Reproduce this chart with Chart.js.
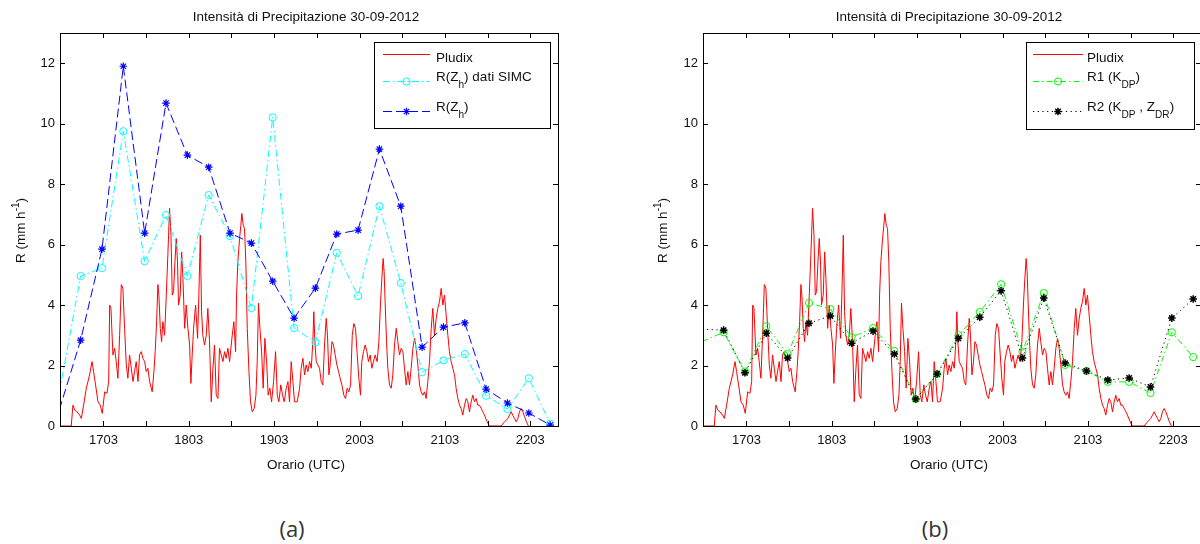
<!DOCTYPE html>
<html>
<head>
<meta charset="utf-8">
<title>Intensità di Precipitazione 30-09-2012</title>
<script src="https://cdn.jsdelivr.net/npm/chart.js@4.4.0/dist/chart.umd.min.js"></script>
<style>
  html, body { margin: 0; padding: 0; background: #fff; }
  body { width: 1200px; height: 544px; position: relative; overflow: hidden; }
  .panel { position: absolute; top: 0; width: 600px; height: 490px; }
  .caption { position: absolute; top: 513px; line-height: 26px; font: 22px "Open Sans", sans-serif;
             color: #333; transform: translateX(-50%); }
</style>
</head>
<body>
<div class="panel" style="left:0"><canvas id="chartA" width="600" height="490"></canvas></div>
<div class="panel" style="left:643px"><canvas id="chartB" width="600" height="490"></canvas></div>
<div class="caption" style="left:292px">(a)</div>
<div class="caption" style="left:935px">(b)</div>

<script>
// time axis is in minutes after midnight (UTC)
const xMin = 992.5;
const xMax = 1342.5;
const xTickMinutes = [1023, 1053, 1083, 1113, 1143, 1173, 1203, 1233, 1263, 1293, 1323];
const xTickLabels = ['1703', '', '1803', '', '1903', '', '2003', '', '2103', '', '2203'];
const yTickValues = [0, 2, 4, 6, 8, 10, 12];

// radar estimates, one every 15 minutes
const radarTime = [992, 1007, 1022, 1037, 1052, 1067, 1082, 1097, 1112, 1127, 1142, 1157,
                   1172, 1187, 1202, 1217, 1232, 1247, 1262, 1277, 1292, 1307, 1322, 1337];
const rZhSimc = [1.1, 4.96, 5.22, 9.75, 5.45, 6.98, 4.96, 7.64, 6.28, 3.9, 10.21, 3.24,
                 2.77, 5.73, 4.3, 7.27, 4.73, 1.78, 2.17, 2.38, 1.0, 0.56, 1.58, 0.08];
const rZh = [0.53, 2.84, 5.85, 11.9, 6.38, 10.68, 8.96, 8.56, 6.38, 6.05, 4.79, 3.57,
             4.56, 6.35, 6.48, 9.16, 7.27, 2.61, 3.27, 3.41, 1.22, 0.76, 0.43, 0.03];
const r1Kdp = [2.8, 3.1, 1.8, 3.3, 2.38, 4.07, 3.87, 2.94, 3.24, 2.48, 0.89, 1.72,
               3.0, 3.77, 4.69, 2.45, 4.4, 2.02, 1.82, 1.46, 1.46, 1.09, 3.1, 2.28];
const r2KdpZdr = [3.2, 3.17, 1.76, 3.07, 2.25, 3.4, 3.64, 2.74, 3.14, 2.38, 0.89, 1.72,
                  2.9, 3.6, 4.47, 2.25, 4.23, 2.08, 1.82, 1.52, 1.59, 1.29, 3.57, 4.2];

// Pludix rain gauge
const pludixTime = [992, 1000.4, 1001.6, 1002.8, 1004.4, 1006.3, 1007.5, 1009.1, 1011, 1013.3,
  1015, 1016.1, 1017.5, 1019.2, 1020.8, 1022.2, 1023.9, 1025.5, 1026.7, 1027.4,
  1028.3, 1029.7, 1030.9, 1032, 1033.2, 1034.4, 1035.6, 1036.7, 1037.9, 1039.1,
  1040.2, 1041.4, 1042.6, 1043.8, 1044.9, 1046.1, 1047.3, 1048.4, 1049.6, 1050.8,
  1052, 1053.1, 1054.3, 1055.5, 1057.3, 1058.5, 1059.4, 1060.4, 1061.3, 1062,
  1063, 1063.9, 1064.8, 1066, 1067.2, 1068.3, 1069.5, 1070.5, 1071.4, 1072.3,
  1073.3, 1074.2, 1075.1, 1075.8, 1077, 1078, 1078.9, 1080.1, 1081.2, 1082.4,
  1083.6, 1084.5, 1085.4, 1086.4, 1087.8, 1089.2, 1090.1, 1091.1, 1092, 1092.9,
  1094.1, 1095.3, 1096.4, 1097.6, 1098.8, 1100, 1101.1, 1102.3, 1103.5, 1104.6,
  1105.8, 1107, 1108.2, 1109.3, 1110.5, 1111.7, 1113.3, 1114.7, 1115.9, 1116.6,
  1117.5, 1118.7, 1119.6, 1120.3, 1121.3, 1122.2, 1123.1, 1124.1, 1125.3, 1126.4,
  1127.6, 1129, 1130.2, 1131.1, 1132, 1133, 1134.2, 1135.3, 1136.5, 1137.7,
  1138.8, 1140, 1141.2, 1142.6, 1144, 1145.2, 1146.3, 1147.7, 1148.9, 1150.1,
  1151.5, 1152.7, 1153.8, 1155, 1156.2, 1157.3, 1159.2, 1160.9, 1162, 1163.2,
  1164.4, 1165.5, 1166.7, 1167.9, 1169.1, 1170.2, 1170.9, 1171.6, 1172.6, 1173.7,
  1174.9, 1176.1, 1177.2, 1178.4, 1179.6, 1180.5, 1181.5, 1182.6, 1183.6, 1184.7,
  1185.9, 1187.1, 1188.3, 1189.4, 1190.6, 1192, 1193.2, 1194.3, 1195.5, 1196.7,
  1197.9, 1199, 1200.2, 1201.4, 1202.5, 1203.7, 1204.6, 1205.8, 1207, 1208.2,
  1209.3, 1210.5, 1211.7, 1212.8, 1214, 1215.4, 1216.6, 1217.8, 1218.7, 1219.6,
  1220.3, 1221, 1222, 1222.9, 1224.1, 1225.3, 1226.4, 1227.6, 1228.8, 1229.9,
  1231.1, 1232.3, 1233.5, 1234.6, 1235.8, 1237, 1238.1, 1239.3, 1240.5, 1241.7,
  1242.8, 1244, 1245.2, 1246.3, 1247.5, 1248.7, 1249.8, 1251, 1252.2, 1253.4,
  1254.5, 1255.7, 1256.9, 1258, 1259.2, 1260.4, 1261.6, 1262.7, 1263.9, 1265.1,
  1266.2, 1267.4, 1268.6, 1269.8, 1270.9, 1272.1, 1273.3, 1274.4, 1275.6, 1276.8,
  1278, 1279.1, 1280.3, 1281.5, 1282.6, 1283.8, 1285, 1286.1, 1287.3, 1288.5,
  1289.7, 1290.8, 1292.7, 1294.3, 1302.5, 1304.9, 1307.2, 1308.4, 1309.6, 1310.7,
  1311.9, 1313.1, 1314.3, 1315.4, 1316.6, 1317.8, 1319, 1320.3, 1321.7];
const pludixRate = [0, 0, 0.69, 0.53, 0.47, 0.36, 0.25, 0.69, 1.25, 1.69,
  2.13, 1.8, 1.36, 0.8, 0.69, 0.42, 1.13, 1.08, 1.47, 4.0,
  3.89, 2.35, 2.57, 2.13, 1.58, 3.0, 4.68, 4.55, 3.23, 2.02,
  1.58, 2.35, 1.91, 1.47, 1.8, 2.13, 1.47, 2.35, 2.46, 2.24,
  2.13, 1.8, 1.91, 1.47, 1.13, 1.8, 2.46, 3.45, 4.68, 4.33,
  3.23, 2.79, 3.45, 3.0, 4.33, 5.65, 7.2, 6.31, 4.33, 4.44,
  5.43, 6.2, 5.43, 4.0, 4.33, 5.76, 4.88, 3.23, 4.0, 3.23,
  2.68, 1.41, 2.35, 3.23, 4.0, 2.9, 4.33, 6.31, 3.78, 3.0,
  2.68, 3.0, 3.89, 2.79, 0.8, 1.91, 2.68, 1.02, 0.91, 2.57,
  2.35, 2.13, 2.46, 2.24, 2.57, 2.13, 2.9, 3.45, 2.46, 4.33,
  5.43, 6.2, 6.64, 7.03, 6.64, 6.53, 5.43, 3.23, 1.8, 0.8,
  0.47, 0.58, 1.02, 2.13, 4.06, 3.23, 2.46, 1.25, 2.9, 2.13,
  1.02, 1.25, 0.8, 1.47, 2.46, 1.02, 0.8, 1.36, 1.02, 0.8,
  1.25, 1.47, 0.8, 2.13, 1.47, 0.8, 0.8, 1.25, 1.91, 2.24,
  1.69, 2.02, 1.8, 2.13, 1.91, 2.79, 3.78, 2.79, 2.13, 2.02,
  1.91, 1.47, 1.36, 2.68, 3.56, 3.0, 1.69, 2.13, 2.79, 2.68,
  2.35, 2.02, 1.8, 1.58, 1.36, 1.02, 0.91, 1.25, 1.13, 1.36,
  3.0, 3.39, 3.23, 2.35, 1.58, 1.02, 2.13, 2.46, 2.68, 2.46,
  2.13, 2.35, 1.91, 2.13, 2.35, 2.13, 2.79, 4.11, 4.88, 5.54,
  5.1, 4.11, 2.79, 1.91, 1.36, 1.25, 1.69, 2.68, 3.23, 2.79,
  2.35, 2.57, 2.46, 1.91, 1.36, 1.8, 1.36, 1.91, 2.57, 2.9,
  2.57, 2.02, 1.36, 1.13, 1.02, 1.13, 0.91, 1.47, 2.13, 3.23,
  3.89, 3.0, 3.56, 3.89, 4.11, 4.55, 4.0, 4.33, 3.67, 3.0,
  2.46, 2.13, 1.91, 1.69, 1.25, 0.91, 0.69, 0.58, 0.36, 0.69,
  0.91, 0.8, 0.47, 0.8, 1.02, 0.8, 0.91, 0.69, 0.69, 0.58,
  0.47, 0.36, 0.14, 0, 0, 0.14, 0.25, 0.36, 0.47, 0.36,
  0.25, 0.14, 0.25, 0.47, 0.58, 0.47, 0.31, 0.14, 0];

const FONT = '"Liberation Sans", Arial, sans-serif';
const titleText = 'Intensità di Precipitazione 30-09-2012';
const xTitleText = 'Orario (UTC)';
const yTitleText = 'R (mm h^{-1})';

const toPoints = (xs, ys) => xs.map((x, i) => ({ x: x, y: ys[i] }));

// text with _{sub} and ^{sup} pieces
function drawRich(ctx, text, x, y, size, align) {
  const parts = [];
  const re = /([_^])\{([^}]*)\}/g;
  let last = 0, m;
  while ((m = re.exec(text))) {
    if (m.index > last) parts.push({ t: text.slice(last, m.index), mode: '' });
    parts.push({ t: m[2], mode: m[1] });
    last = re.lastIndex;
  }
  if (last < text.length) parts.push({ t: text.slice(last), mode: '' });
  const small = size * 0.75;
  let w = 0;
  parts.forEach(p => {
    ctx.font = (p.mode ? small : size) + 'px ' + FONT;
    p.w = ctx.measureText(p.t).width;
    w += p.w;
  });
  let cx = align === 'center' ? x - w / 2 : x;
  ctx.textAlign = 'left';
  ctx.textBaseline = 'middle';
  parts.forEach(p => {
    ctx.font = (p.mode ? small : size) + 'px ' + FONT;
    const dy = p.mode === '_' ? size * 0.6 : (p.mode === '^' ? -size * 0.35 : 0);
    ctx.fillText(p.t, cx, y + dy);
    cx += p.w;
  });
}

function drawMarker(ctx, style, x, y, r, color, width) {
  ctx.save();
  ctx.strokeStyle = color;
  ctx.lineWidth = width;
  ctx.setLineDash([]);
  ctx.beginPath();
  if (style === 'circle') {
    ctx.arc(x, y, r, 0, Math.PI * 2);
  } else if (style === 'star') {
    const d = r * Math.SQRT1_2;
    ctx.moveTo(x - r, y); ctx.lineTo(x + r, y);
    ctx.moveTo(x, y - r); ctx.lineTo(x, y + r);
    ctx.moveTo(x - d, y - d); ctx.lineTo(x + d, y + d);
    ctx.moveTo(x - d, y + d); ctx.lineTo(x + d, y - d);
  }
  ctx.stroke();
  ctx.restore();
}

// axes box with inward ticks, titles and the boxed legend
const framePlugin = {
  id: 'frame',
  afterDatasetsDraw(chart, args, opts) {
    const { ctx, chartArea: a, scales: { x, y } } = chart;
    ctx.save();
    ctx.strokeStyle = '#000';
    ctx.lineWidth = 1;
    ctx.setLineDash([]);
    ctx.beginPath();
    xTickMinutes.forEach(v => {
      const px = Math.round(x.getPixelForValue(v)) + 0.5;
      ctx.moveTo(px, a.bottom); ctx.lineTo(px, a.bottom - 5);
      ctx.moveTo(px, a.top); ctx.lineTo(px, a.top + 5);
    });
    yTickValues.forEach(v => {
      const py = Math.round(y.getPixelForValue(v)) + 0.5;
      ctx.moveTo(a.left, py); ctx.lineTo(a.left + 5, py);
      ctx.moveTo(a.right, py); ctx.lineTo(a.right - 5, py);
    });
    ctx.stroke();
    ctx.strokeRect(Math.round(a.left) + 0.5, Math.round(a.top) + 0.5,
                   Math.round(a.right - a.left), Math.round(a.bottom - a.top));

    // titles
    ctx.fillStyle = '#111';
    const cx = (a.left + a.right) / 2 - 3;
    drawRich(ctx, titleText, cx, 17, 13.5, 'center');
    drawRich(ctx, xTitleText, cx, 465, 13.5, 'center');
    ctx.save();
    ctx.translate(opts.yTitleX, (a.top + a.bottom) / 2 + 1);
    ctx.rotate(-Math.PI / 2);
    drawRich(ctx, yTitleText, 0, 0, 13.5, 'center');
    ctx.restore();

    // legend
    const L = opts.legend;
    ctx.fillStyle = '#fff';
    ctx.fillRect(L.left, L.top, L.width, L.height);
    ctx.strokeStyle = '#000';
    ctx.strokeRect(L.left + 0.5, L.top + 0.5, L.width, L.height);
    chart.data.datasets.forEach((ds, i) => {
      const ly = L.top + L.lineRows[i];
      const x0 = L.left + L.sample[0], x1 = L.left + L.sample[1];
      ctx.save();
      ctx.strokeStyle = ds.borderColor;
      ctx.lineWidth = ds.borderWidth;
      ctx.setLineDash(ds.borderDash || []);
      ctx.beginPath();
      ctx.moveTo(x0, ly + 0.5); ctx.lineTo(x1, ly + 0.5);
      ctx.stroke();
      ctx.restore();
      if (ds.markerSize) {
        drawMarker(ctx, ds.pointStyle, (x0 + x1) / 2, ly + 0.5, ds.markerSize,
                   ds.pointBorderColor, ds.pointBorderWidth);
      }
      ctx.fillStyle = '#111';
      drawRich(ctx, ds.label, L.left + L.textX, L.top + L.textRows[i], 13.5, 'left');
    });
    ctx.restore();
  }
};

function pludixSet() {
  return {
    label: 'Pludix',
    data: toPoints(pludixTime, pludixRate),
    borderColor: '#ff0000',
    borderWidth: 1,
    pointRadius: 0,
    order: 3
  };
}

function radarSet(label, values, color, dash, style, radius, width, order) {
  return {
    label: label,
    data: toPoints(radarTime, values),
    borderColor: color,
    borderWidth: 1,
    borderDash: dash,
    pointStyle: style,
    markerSize: radius,
    // markers whose centre falls outside the axes are left out
    pointRadius: c => (c.raw && c.raw.x < xMin ? 0 : radius),
    pointBorderColor: color,
    pointBackgroundColor: 'rgba(0,0,0,0)',
    pointBorderWidth: width,
    order: order
  };
}

function makePanel(id, datasets, legend, yTitleX) {
  return new Chart(document.getElementById(id), {
    type: 'line',
    data: { datasets: datasets },
    options: {
      responsive: false,
      animation: false,
      devicePixelRatio: 1,
      events: [],
      layout: { padding: { left: 0, top: 33, right: 42, bottom: 0 } },
      elements: { line: { tension: 0 } },
      plugins: {
        legend: { display: false },
        title: { display: false },
        tooltip: { enabled: false },
        frame: { legend: legend, yTitleX: yTitleX }
      },
      scales: {
        x: {
          type: 'linear',
          min: xMin,
          max: xMax,
          grid: { display: false, drawTicks: false },
          border: { display: false },
          afterBuildTicks: s => { s.ticks = xTickMinutes.map(v => ({ value: v })); },
          afterFit: s => { s.height = 64; },
          ticks: {
            autoSkip: false, maxRotation: 0, padding: 7, color: '#111',
            font: { family: FONT, size: 13 },
            callback: (v, i) => xTickLabels[i]
          }
        },
        y: {
          min: 0,
          max: 13,
          grid: { display: false, drawTicks: false },
          border: { display: false },
          afterBuildTicks: s => { s.ticks = yTickValues.map(v => ({ value: v })); },
          afterFit: s => { s.width = 60; },
          ticks: { padding: 5, color: '#111', font: { family: FONT, size: 13 } }
        }
      }
    },
    plugins: [framePlugin]
  });
}

const legendRows = { lineRows: [12, 39, 69], textRows: [16, 35, 65] };

makePanel('chartA', [
  pludixSet(),
  radarSet('R(Z_{h}) dati SIMC', rZhSimc, '#00ffff', [7, 3, 1.5, 3], 'circle', 3.6, 1, 2),
  radarSet('R(Z_{h})', rZh, '#0000ff', [9, 4], 'star', 3.8, 1.2, 1)
], Object.assign({ left: 374, top: 42, width: 176, height: 86, sample: [9, 56], textX: 62 }, legendRows), 21);

makePanel('chartB', [
  pludixSet(),
  radarSet('R1 (K_{DP})', r1Kdp, '#00ff00', [6, 3, 1.5, 3], 'circle', 3.6, 1, 2),
  radarSet('R2 (K_{DP} , Z_{DR})', r2KdpZdr, '#000000', [1.2, 3.5], 'star', 3.8, 1.5, 1)
], Object.assign({ left: 383, top: 42, width: 168, height: 87, sample: [7, 57], textX: 61 }, legendRows), 20);
</script>
</body>
</html>
